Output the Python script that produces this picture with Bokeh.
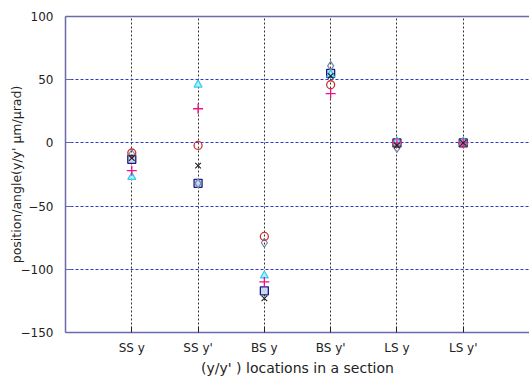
from bokeh.plotting import figure
from bokeh.models import FactorRange, Range1d, FixedTicker, LinearAxis
from bokeh.embed import file_html
from bokeh.resources import INLINE

categories = ["SS y", "SS y'", "BS y", "BS y'", "LS y", "LS y'"]
circle_vals = [-8, -2, -74, 46, 0, 0]
plus_vals = [-22, 27, -110, 39, 0, 0]
x_vals = [-12, -18, -123, 53, -2, 0]
square_vals = [-13, -32, -117, 55, 0, 0]
triangle_vals = [-27, 46, -105, 54, 1, 1]
diamond_vals = [-9, -32, -79, 61, -4, 0]
y_ticks = [-150, -100, -50, 0, 50, 100]

AX = "#6a6aaa"
FONT = "DejaVu Sans"

p = figure(width=529, height=378, output_backend="svg", toolbar_location=None,
           x_range=FactorRange(*categories, range_padding=0.5, range_padding_units="absolute"),
           y_range=Range1d(-150, 100),
           min_border_left=65, min_border_right=0, min_border_top=16, min_border_bottom=45)
p.outline_line_color = None
p.background_fill_color = "white"

p.scatter(categories, square_vals, marker="square", size=8, line_color="#1a1a80", fill_color="#c8d8f0", line_width=1.3)
p.scatter(categories, diamond_vals, marker="diamond", size=9, line_color="#6f8aa8", fill_color=None, line_width=1.2)
p.scatter(categories, circle_vals, marker="circle", size=8, line_color="#cc3333", fill_color=None, line_width=1.3)
p.scatter(categories, triangle_vals, marker="triangle", size=8, line_color="#33ccee", fill_color="#aaeeff", line_width=1.2)
p.scatter(categories, plus_vals, marker="cross", size=10, line_color="#ee1188", line_width=1.3)
p.scatter(categories, x_vals, marker="x", size=8, line_color="#222222", line_width=1.1)

# grids
p.xgrid.grid_line_color = "#333333"
p.xgrid.grid_line_dash = "2 2"
p.xgrid.grid_line_width = 1
p.ygrid.grid_line_color = "#3535d5"
p.ygrid.grid_line_dash = "3 2"
p.ygrid.grid_line_width = 1
p.yaxis.ticker = FixedTicker(ticks=y_ticks)

for ax in (p.xaxis[0], p.yaxis[0]):
    ax.axis_line_color = AX
    ax.axis_line_width = 1.5
    ax.major_tick_in = 6
    ax.major_tick_out = 0
    ax.minor_tick_line_color = None
    ax.major_label_text_font = FONT
    ax.major_label_text_font_size = "12px"
    ax.major_label_text_color = "#222222"
    ax.axis_label_text_font = FONT
    ax.axis_label_text_font_style = "normal"
    ax.axis_label_text_color = "#222222"

p.xaxis.axis_label_text_font_size = "14px"
p.yaxis.axis_label_text_font_size = "12.5px"
p.xaxis.major_tick_line_color = "#222222"
p.yaxis.major_tick_line_color = AX
p.xaxis.axis_label = "(y/y' ) locations in a section"
p.xaxis.axis_label_standoff = 2
p.xaxis.major_label_standoff = 8
p.yaxis.axis_label = "position/angle(y/y' \u03bcm/\u03bcrad)"
p.yaxis.major_label_standoff = 12
p.yaxis.axis_label_standoff = -6

top = LinearAxis(axis_line_color=AX, axis_line_width=1.5, major_tick_line_color=None,
                 minor_tick_line_color=None, major_label_text_font_size="0px")
top.ticker = FixedTicker(ticks=[])
p.add_layout(top, "above")

open("out.html", "w").write(file_html(p, INLINE))
